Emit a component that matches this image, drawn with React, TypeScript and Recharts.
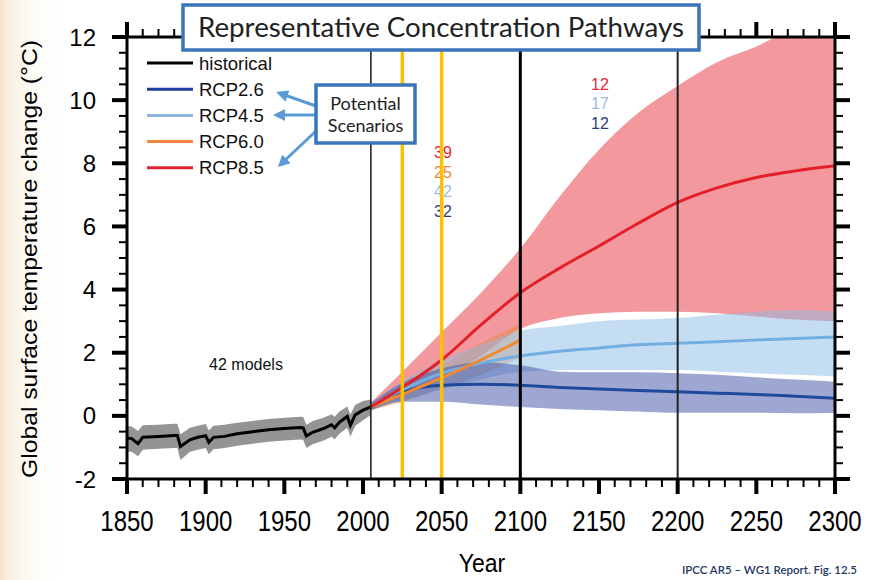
import { Area, ComposedChart, Line, ReferenceLine, XAxis, YAxis } from 'recharts'

// Colours picked off the reference figure.
const INK = '#000000'
const BOX_BLUE = '#3b74b8'
const ARROW_BLUE = '#5b9bd5'
const HIGHLIGHT = '#ffc000'
const ARIAL = '"Liberation Sans", Arial, sans-serif'
const CALIBRI = 'Lato, "Open Sans", sans-serif'

// Historical run, 1850–2005 (multi-model mean and spread)
const histYears = [1850, 1853, 1857, 1860, 1870, 1880, 1882, 1884, 1890, 1895, 1900, 1902, 1905, 1912, 1920, 1930, 1940, 1950, 1960, 1962, 1964, 1968, 1975, 1980, 1982, 1985, 1990, 1992, 1995, 2000, 2005]
const histMean = [-0.7, -0.72, -0.88, -0.68, -0.65, -0.62, -0.62, -0.97, -0.76, -0.68, -0.63, -0.84, -0.68, -0.65, -0.57, -0.5, -0.44, -0.4, -0.37, -0.38, -0.64, -0.52, -0.4, -0.28, -0.38, -0.2, -0.02, -0.3, 0.03, 0.18, 0.28]
const histLow = [-1.12, -1.14, -1.28, -1.07, -1.04, -1.02, -1.02, -1.4, -1.14, -1.07, -1.02, -1.22, -1.06, -1.02, -0.95, -0.88, -0.82, -0.78, -0.75, -0.76, -1.02, -0.9, -0.78, -0.66, -0.74, -0.57, -0.38, -0.66, -0.32, -0.14, 0.03]
const histHigh = [-0.32, -0.34, -0.48, -0.3, -0.28, -0.25, -0.25, -0.58, -0.38, -0.31, -0.26, -0.46, -0.31, -0.28, -0.22, -0.16, -0.1, -0.06, -0.03, -0.04, -0.28, -0.16, -0.06, 0.05, -0.03, 0.14, 0.3, 0.04, 0.34, 0.47, 0.52]

// Projections, 2005–2300
const projYears = [2005, 2025, 2050, 2075, 2100, 2125, 2150, 2175, 2200, 2225, 2250, 2275, 2300]
const rcp85 = [0.28, 0.9, 1.77, 2.88, 3.9, 4.68, 5.38, 6.1, 6.76, 7.22, 7.55, 7.76, 7.92]
const rcp85Low = [0.2, 0.62, 1.15, 1.9, 2.75, 3.1, 3.25, 3.3, 3.3, 3.25, 3.15, 3.05, 3.0]
const rcp85High = [0.42, 1.4, 2.65, 3.9, 5.3, 6.95, 8.43, 9.6, 10.45, 11.2, 11.7, 12.3, 12.6]
const rcp60 = [0.28, 0.68, 1.2, 1.77, 2.4, null, null, null, null, null, null, null, null]
const rcp60Low = [0.18, 0.45, 0.85, 1.3, 1.85, null, null, null, null, null, null, null, null]
const rcp60High = [0.4, 0.98, 1.6, 2.3, 2.9, null, null, null, null, null, null, null, null]
const rcp45 = [0.28, 0.82, 1.35, 1.67, 1.9, 2.05, 2.15, 2.25, 2.3, 2.35, 2.4, 2.45, 2.5]
const rcp45Low = [0.18, 0.5, 0.85, 1.15, 1.4, 1.45, 1.45, 1.45, 1.45, 1.4, 1.35, 1.3, 1.25]
const rcp45High = [0.4, 1.1, 1.75, 2.25, 2.7, 2.85, 3.0, 3.05, 3.1, 3.2, 3.3, 3.35, 3.3]
const rcp26 = [0.28, 0.75, 0.97, 1.0, 0.97, 0.9, 0.85, 0.8, 0.76, 0.72, 0.68, 0.62, 0.56]
const rcp26Low = [0.18, 0.45, 0.45, 0.36, 0.28, 0.22, 0.18, 0.14, 0.1, 0.1, 0.1, 0.08, 0.1]
const rcp26High = [0.4, 1.05, 1.5, 1.7, 1.6, 1.4, 1.38, 1.38, 1.35, 1.3, 1.22, 1.15, 1.08]

// Legend entries and model counts
const legendNames = ['historical', 'RCP2.6', 'RCP4.5', 'RCP6.0', 'RCP8.5']
const legendColors = [INK, '#1f3f99', '#8db4de', '#ef8a3c', '#e0242c']
const counts2100 = ['39', '25', '42', '32']
const counts2100Colors = ['#e32636', '#e8893a', '#9dbde0', '#2b3d7d']
const counts2300 = ['12', '17', '12']
const counts2300Colors = ['#e32636', '#9dbde0', '#2b3d7d']

const xTicks = Array.from({ length: 46 }, (_, i) => 1850 + i * 10)
const yTicks = Array.from({ length: 29 }, (_, i) => -2 + i * 0.5)
const eraLines = [2005, 2100, 2200]
const highlightYears = [2025, 2050]

const allYears = Array.from(new Set([...histYears, ...projYears])).sort((a, b) => a - b)
const pick = (arr: (number | null)[], i: number) => (i < 0 ? null : arr[i])
const band = (lo: (number | null)[], hi: (number | null)[], i: number) =>
  i < 0 || lo[i] == null || hi[i] == null ? null : [lo[i], hi[i]]

const table = allYears.map((year) => {
  const h = histYears.indexOf(year)
  const p = projYears.indexOf(year)
  return {
    year,
    hist: pick(histMean, h),
    histBand: band(histLow, histHigh, h),
    r85: pick(rcp85, p),
    r85Band: band(rcp85Low, rcp85High, p),
    r60: pick(rcp60, p),
    r60Band: band(rcp60Low, rcp60High, p),
    r45: pick(rcp45, p),
    r45Band: band(rcp45Low, rcp45High, p),
    r26: pick(rcp26, p),
    r26Band: band(rcp26Low, rcp26High, p),
  }
})

function BottomTick({ x, y, payload }: any) {
  const major = payload.value % 50 === 0
  return (
    <g>
      <line x1={x} y1={y} x2={x} y2={y + (major ? 15 : 8)} stroke={INK} strokeWidth={major ? 4 : 2} />
      {major && (
        <text
          transform={`translate(${x},${y + 52}) scale(1,1.25)`}
          textAnchor="middle"
          fontFamily={ARIAL}
          fontSize={24}
          fill={INK}
        >
          {payload.value}
        </text>
      )}
    </g>
  )
}

function TopTick({ x, y, payload }: any) {
  const major = payload.value % 50 === 0
  return <line x1={x} y1={y} x2={x} y2={y - (major ? 15 : 8)} stroke={INK} strokeWidth={major ? 4 : 2} />
}

function LeftTick({ x, y, payload }: any) {
  const major = payload.value % 2 === 0
  return (
    <g>
      <line x1={x} y1={y} x2={x - (major ? 15 : 8)} y2={y} stroke={INK} strokeWidth={major ? 4 : 2} />
      {major && (
        <text x={x - 31} y={y + 8.5} textAnchor="end" fontFamily={ARIAL} fontSize={24} fill={INK}>
          {payload.value}
        </text>
      )}
    </g>
  )
}

function RightTick({ x, y, payload }: any) {
  const major = payload.value % 2 === 0
  return <line x1={x} y1={y} x2={x + (major ? 15 : 8)} y2={y} stroke={INK} strokeWidth={major ? 4 : 2} />
}

const axisLine = { stroke: INK, strokeWidth: 3 }

export default function App() {
  return (
    <div
      style={{
        position: 'absolute',
        left: 0,
        top: 0,
        width: 876,
        height: 580,
        overflow: 'hidden',
        background: 'linear-gradient(to right, #f3e3c6 0px, #f8efdf 7px, #fdfaf4 28px, #ffffff 60px)',
      }}
    >
      {/* labels that sit underneath the highlight lines */}
      <svg width={876} height={580} style={{ position: 'absolute', left: 0, top: 0 }}>
        {counts2100.map((c, i) => (
          <text key={i} x={443} y={158 + i * 19.5} textAnchor="middle" fontFamily={ARIAL} fontSize={16} fill={counts2100Colors[i]}>
            {c}
          </text>
        ))}
        {counts2300.map((c, i) => (
          <text key={i} x={600} y={90 + i * 19.3} textAnchor="middle" fontFamily={ARIAL} fontSize={16} fill={counts2300Colors[i]}>
            {c}
          </text>
        ))}
        <text x={246} y={370} textAnchor="middle" fontFamily={ARIAL} fontSize={16} fill="#111">
          42 models
        </text>
      </svg>

      <div style={{ position: 'absolute', left: 0, top: 0 }}>
        <ComposedChart width={876} height={580} data={table} margin={{ top: 17, right: 21, bottom: 41, left: 57 }}>
          <XAxis
            dataKey="year"
            type="number"
            domain={[1850, 2300]}
            allowDataOverflow
            ticks={xTicks}
            interval={0}
            tickSize={0}
            tickMargin={0}
            tickLine={false}
            height={60}
            axisLine={axisLine}
            tick={(p: any) => <BottomTick {...p} />}
          />
          <XAxis
            xAxisId="top"
            orientation="top"
            dataKey="year"
            type="number"
            domain={[1850, 2300]}
            allowDataOverflow
            ticks={xTicks}
            interval={0}
            tickSize={0}
            tickMargin={0}
            tickLine={false}
            height={20}
            axisLine={axisLine}
            tick={(p: any) => <TopTick {...p} />}
          />
          <YAxis
            type="number"
            domain={[-2, 12]}
            allowDataOverflow
            ticks={yTicks}
            interval={0}
            tickSize={0}
            tickMargin={0}
            tickLine={false}
            width={70}
            axisLine={axisLine}
            tick={(p: any) => <LeftTick {...p} />}
          />
          <YAxis
            yAxisId="right"
            orientation="right"
            type="number"
            domain={[-2, 12]}
            allowDataOverflow
            ticks={yTicks}
            interval={0}
            tickSize={0}
            tickMargin={0}
            tickLine={false}
            width={20}
            axisLine={axisLine}
            tick={(p: any) => <RightTick {...p} />}
          />

          <Area dataKey="histBand" type="linear" stroke="none" fill="#8e8e8e" fillOpacity={0.95} isAnimationActive={false} />
          <Area dataKey="r85Band" type="monotone" stroke="none" fill="#e8323c" fillOpacity={0.5} isAnimationActive={false} />
          <Area dataKey="r60Band" type="monotone" stroke="none" fill="#e8823a" fillOpacity={0.45} isAnimationActive={false} />
          <Area dataKey="r45Band" type="monotone" stroke="none" fill="#8cbbe6" fillOpacity={0.5} isAnimationActive={false} />
          <Area dataKey="r26Band" type="monotone" stroke="none" fill="#3c4fa6" fillOpacity={0.5} isAnimationActive={false} />

          <Line dataKey="hist" type="linear" stroke={INK} strokeWidth={3} dot={false} isAnimationActive={false} />
          <Line dataKey="r26" type="monotone" stroke="#1e4a9c" strokeWidth={3} dot={false} isAnimationActive={false} />
          <Line dataKey="r45" type="monotone" stroke="#72aee2" strokeWidth={3} dot={false} isAnimationActive={false} />
          <Line dataKey="r60" type="monotone" stroke="#ef8a32" strokeWidth={3} dot={false} isAnimationActive={false} />
          <Line dataKey="r85" type="monotone" stroke="#e3202a" strokeWidth={3} dot={false} isAnimationActive={false} />

          {eraLines.map((yr) => (
            <ReferenceLine
              key={yr}
              x={yr}
              stroke={yr === 2100 ? INK : '#222'}
              strokeWidth={yr === 2100 ? 3 : yr === 2200 ? 2 : 1.6}
            />
          ))}
          {highlightYears.map((yr) => (
            <ReferenceLine key={yr} x={yr} stroke={HIGHLIGHT} strokeWidth={3.5} />
          ))}
        </ComposedChart>
      </div>

      {/* annotations on top of the chart */}
      <svg width={876} height={580} style={{ position: 'absolute', left: 0, top: 0, pointerEvents: 'none' }}>
        <defs>
          <marker id="arrowHead" viewBox="0 0 12 12" refX={9} refY={6} markerWidth={12} markerHeight={12} markerUnits="userSpaceOnUse" orient="auto">
            <path d="M0,0 L12,6 L0,12 z" fill={ARROW_BLUE} />
          </marker>
        </defs>

        <text
          transform="translate(37,259) rotate(-90)"
          textAnchor="middle"
          fontFamily={ARIAL}
          fontSize={21.5}
          textLength={438}
          lengthAdjust="spacingAndGlyphs"
          fill={INK}
        >
          Global surface temperature change (°C)
        </text>
        <text transform="translate(482,572) scale(1,1.15)" textAnchor="middle" fontFamily={ARIAL} fontSize={23} fill={INK}>
          Year
        </text>

        {legendNames.map((name, i) => {
          const y = 63 + i * 26.2
          return (
            <g key={name}>
              <line x1={147} y1={y} x2={193} y2={y} stroke={legendColors[i]} strokeWidth={3} />
              <text x={199} y={y + 6.5} fontFamily={ARIAL} fontSize={18.5} fill="#111">
                {name}
              </text>
            </g>
          )
        })}

        <rect x={183} y={5} width={516} height={45} fill="#fff" stroke={BOX_BLUE} strokeWidth={3.5} />
        <text x={441} y={37} textAnchor="middle" fontFamily={CALIBRI} fontSize={26} textLength={486} lengthAdjust="spacingAndGlyphs" fill="#222">
          Representative Concentration Pathways
        </text>

        <line x1={316} y1={106} x2={279} y2={93} stroke={ARROW_BLUE} strokeWidth={3} markerEnd="url(#arrowHead)" />
        <line x1={316} y1={115} x2={276} y2={115} stroke={ARROW_BLUE} strokeWidth={3} markerEnd="url(#arrowHead)" />
        <line x1={316} y1={131} x2={280} y2={165} stroke={ARROW_BLUE} strokeWidth={3} markerEnd="url(#arrowHead)" />
        <rect x={316} y={85} width={99} height={58} fill="#fff" stroke={BOX_BLUE} strokeWidth={3.5} />
        <text x={365.5} y={110} textAnchor="middle" fontFamily={CALIBRI} fontSize={18} fill="#222">
          Potential
        </text>
        <text x={365.5} y={132} textAnchor="middle" fontFamily={CALIBRI} fontSize={18} fill="#222">
          Scenarios
        </text>

        <text x={682} y={574} fontFamily={CALIBRI} fontSize={12} fontWeight={600} textLength={175} lengthAdjust="spacingAndGlyphs" fill="#1f3864">
          IPCC AR5 – WG1 Report. Fig. 12.5
        </text>
      </svg>
    </div>
  )
}
